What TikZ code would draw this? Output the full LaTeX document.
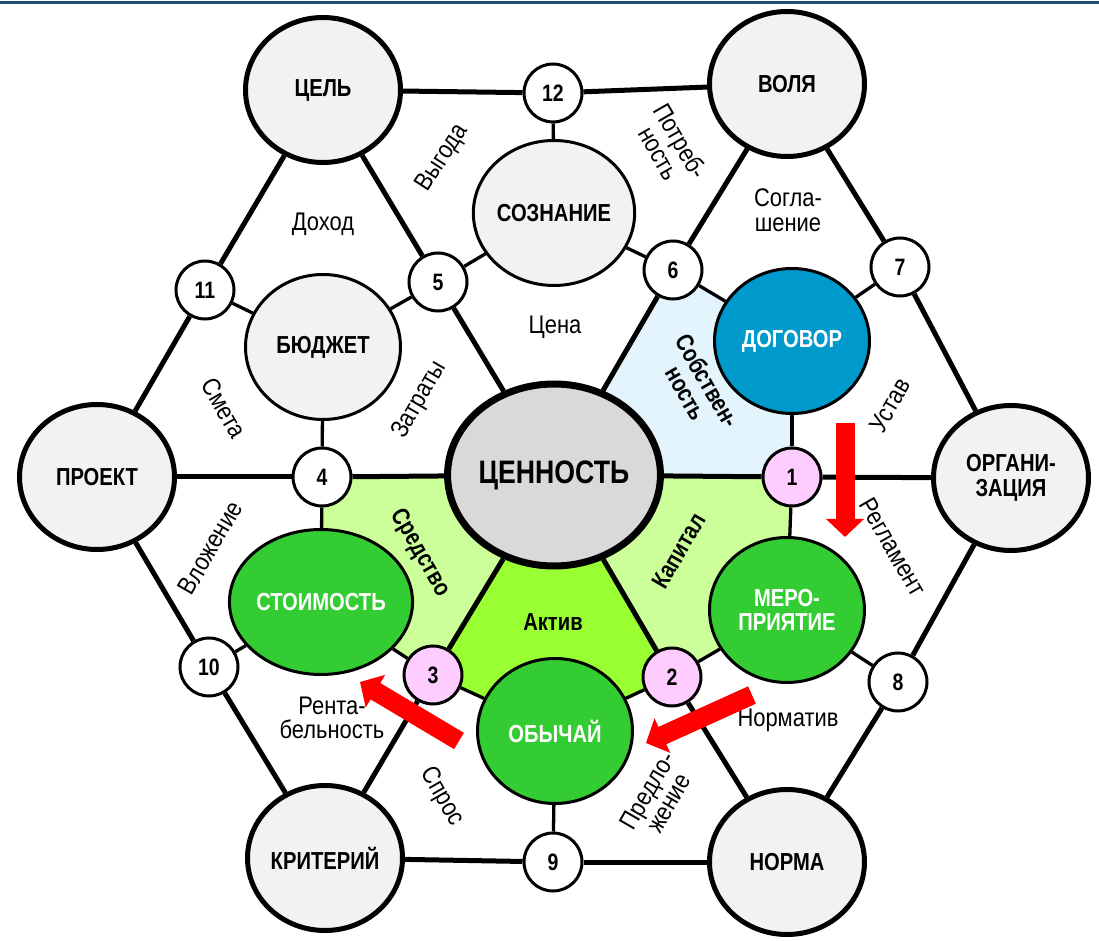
\documentclass[tikz,border=0pt]{standalone}
\usepackage{fontspec}
\setmainfont{Liberation Sans}
\newfontfamily\narrowsans{Liberation Sans}[FakeStretch=0.82]
\newfontfamily\narrowtext{Liberation Sans}[FakeStretch=0.86]
\usetikzlibrary{arrows.meta, shapes.geometric, backgrounds}

\definecolor{cellgray}{HTML}{F2F2F2}
\definecolor{coregray}{HTML}{D9D9D9}
\definecolor{dealblue}{HTML}{0099CC}
\definecolor{leafgreen}{HTML}{33CC33}
\definecolor{numpink}{HTML}{FFCCFF}
\definecolor{ownblue}{HTML}{E3F4FC}
\definecolor{palegreen}{HTML}{CCFF99}
\definecolor{limegreen}{HTML}{99FF33}
\definecolor{barblue}{HTML}{1F4E79}

\newcommand{\capfont}{\narrowsans\bfseries\fontsize{14}{14}\selectfont}
\newcommand{\hubfont}{\narrowsans\bfseries\fontsize{18.5}{20}\selectfont}
\newcommand{\numfont}{\narrowsans\bfseries\fontsize{13.5}{13.5}\selectfont}
\newcommand{\lblfont}{\narrowtext\fontsize{14.5}{14}\selectfont}
\newcommand{\blblfont}{\narrowsans\bfseries\fontsize{14}{14}\selectfont}

\begin{document}
\begin{tikzpicture}
        [x=0.2mm, y=-0.2mm,
        pole/.style={ellipse, draw=black, fill=cellgray, line width=1mm,
          minimum width=31mm, minimum height=29mm, inner sep=0pt,
          align=center, font=\capfont},
        cell/.style={pole, line width=0.6mm},
        leaf/.style={cell, fill=leafgreen, text=white},
        hub/.style={ellipse, draw=black, fill=coregray, line width=1.4mm,
          minimum width=38.4mm, minimum height=36.4mm, inner sep=0pt,
          font=\hubfont},
        num/.style={circle, draw=black, fill=white, line width=0.6mm,
          minimum size=11.6mm, inner sep=0pt, font=\numfont},
        pnum/.style={num, fill=numpink},
        lbl/.style={font=\lblfont, align=center, inner sep=0pt},
        blbl/.style={font=\blblfont, align=center, inner sep=0pt},
        rim/.style={line width=1mm},
        tie/.style={line width=0.66mm},
        redarr/.style={-{Triangle[length=3.6mm, width=7.4mm]},
          line width=3.8mm, draw=red}]
        \useasboundingbox (0, 0) rectangle (1099, 941);
        \draw[barblue, line width=0.6mm] (0, 2.5) -- (1099, 2.5);

        \node (cel) at (323, 90) [pole] {ЦЕЛЬ};
        \node (vol) at (787, 84) [pole] {ВОЛЯ};
        \node (proj) at (97, 477) [pole] {ПРОЕКТ};
        \node (org) at (1011, 478) [pole] {ОРГАНИ-\\ЗАЦИЯ};
        \node (krit) at (325, 858) [pole] {КРИТЕРИЙ};
        \node (norm) at (787, 862) [pole] {НОРМА};
        \node (val) at (554, 475) [hub] {ЦЕННОСТЬ};

        \node (soz) at (554, 213) [cell] {СОЗНАНИЕ};
        \node (bud) at (323, 347) [cell] {БЮДЖЕТ};
        \node (dog) at (792, 341) [cell, fill=dealblue, text=white] {ДОГОВОР};
        \node (stoim) at (321, 602) [leaf] {СТОИМОСТЬ};
        \node (mer) at (787, 610) [leaf] {МЕРО-\\ПРИЯТИЕ};
        \node (obych) at (555, 731) [leaf] {ОБЫЧАЙ};

        \node (n12) at (553, 93) [num] {12}
           edge[rim] (cel)
           edge[rim] (vol)
           edge[tie] (soz);
        \node (n11) at (205, 290) [num] {11}
           edge[rim] (cel)
           edge[rim] (proj)
           edge[tie] (bud);
        \node (n5) at (438, 282) [num] {5}
           edge[rim] (cel)
           edge[rim] (val)
           edge[tie] (soz)
           edge[tie] (bud);
        \node (n6) at (673, 270) [num] {6}
           edge[rim] (vol)
           edge[rim] (val)
           edge[tie] (soz)
           edge[tie] (dog);
        \node (n7) at (900, 267) [num] {7}
           edge[rim] (vol)
           edge[rim] (org)
           edge[tie] (dog);
        \node (n4) at (322, 477) [num] {4}
           edge[rim] (proj)
           edge[rim] (val)
           edge[tie] (bud)
           edge[tie] (stoim);
        \node (n1) at (792, 477) [pnum] {1}
           edge[rim] (val)
           edge[rim] (org)
           edge[tie] (dog)
           edge[tie] (mer);
        \node (n10) at (209, 667) [num] {10}
           edge[rim] (proj)
           edge[rim] (krit)
           edge[tie] (stoim);
        \node (n3) at (433, 675) [pnum] {3}
           edge[rim] (val)
           edge[rim] (krit)
           edge[tie] (stoim)
           edge[tie] (obych);
        \node (n2) at (672, 677) [pnum] {2}
           edge[rim] (val)
           edge[rim] (norm)
           edge[tie] (mer)
           edge[tie] (obych);
        \node (n8) at (898, 682) [num] {8}
           edge[rim] (org)
           edge[rim] (norm)
           edge[tie] (mer);
        \node (n9) at (553, 862) [num] {9}
           edge[rim] (krit)
           edge[rim] (norm)
           edge[tie] (obych);

        \begin{scope}[on background layer]
           \fill[ownblue] (n6.center) -- (dog.center) -- (n1.center) -- (val.center) -- cycle;
           \fill[palegreen] (n4.center) -- (val.center) -- (n3.center) -- (stoim.center) -- cycle;
           \fill[palegreen] (val.center) -- (n1.center) -- (mer.center) -- (n2.center) -- cycle;
           \fill[limegreen] (val.center) -- (n3.center) -- (obych.center) -- (n2.center) -- cycle;
        \end{scope}

        \node (lvyg) at (443, 158) [lbl, rotate=57] {Выгода};
        \node (lpotr) at (670, 147) [lbl, rotate=-60] {Потреб-\\ность};
        \node (ldoh) at (323, 224) [lbl] {Доход};
        \node (lsogl) at (788, 210) [lbl] {Согла-\\шение};
        \node (lcena) at (555, 327) [lbl] {Цена};
        \node (lsobst) at (697, 387) [blbl, rotate=-60] {Собствен-\\ность};
        \node (lustav) at (890, 405) [lbl, rotate=60] {Устав};
        \node (lsmeta) at (224, 408) [lbl, rotate=-60] {Смета};
        \node (lzatr) at (420, 400) [lbl, rotate=60] {Затраты};
        \node (lregl) at (893, 547) [lbl, rotate=-60] {Регламент};
        \node (lvlozh) at (210, 548) [lbl, rotate=60] {Вложение};
        \node (lsredst) at (420, 553) [blbl, rotate=-60] {Средство};
        \node (lkapit) at (679, 551) [blbl, rotate=60] {Капитал};
        \node (laktiv) at (553, 622) [blbl] {Актив};
        \node (lrent) at (332, 718) [lbl] {Рента-\\бельность};
        \node (lnorm) at (788, 720) [lbl] {Норматив};
        \node (lspros) at (442, 797) [lbl, rotate=-60] {Спрос};
        \node (lpredl) at (658, 797) [lbl, rotate=60] {Предло-\\жение};

        \coordinate (s1) at (845, 423);
        \coordinate (t1) at (845, 537);
        \coordinate (s2) at (459, 741);
        \coordinate (t2) at (360, 682);
        \coordinate (s3) at (752, 695);
        \coordinate (t3) at (646, 743);
        \draw[redarr] (s1) -- (t1);
        \draw[redarr] (s2) -- (t2);
        \draw[redarr] (s3) -- (t3);
     \end{tikzpicture}
\end{document}
